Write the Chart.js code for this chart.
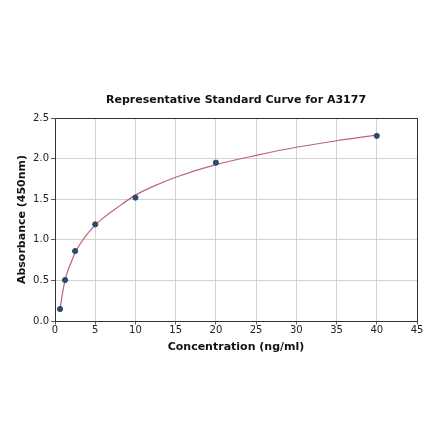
<!DOCTYPE html>
<html>
<head>
<meta charset="utf-8">
<script src="https://cdn.jsdelivr.net/npm/chart.js@4"></script>
<style>
  html, body { margin: 0; padding: 0; background: #fff; }
  canvas { display: block; }
</style>
</head>
<body>
<canvas id="chartStdCurve" width="440" height="441"></canvas>
<script>
// standard points
const concentrations = [0.625, 1.25, 2.5, 5, 10, 20, 40];
const absorbances = [0.148, 0.505, 0.862, 1.19, 1.52, 1.95, 2.28];

// fitted curve
const curveX = [0.625, 0.8, 1, 1.25, 1.6, 2, 2.5, 3, 4, 5, 6, 7.5, 10, 12.5, 15, 20, 25, 30, 35, 40];
const curveY = [0.14, 0.26, 0.38, 0.5, 0.62, 0.72, 0.84, 0.93, 1.07, 1.18, 1.27, 1.38, 1.55, 1.67, 1.77, 1.925, 2.04, 2.14, 2.22, 2.29];

const xTicks = [0, 5, 10, 15, 20, 25, 30, 35, 40, 45];
const yTicks = [0, 0.5, 1.0, 1.5, 2.0, 2.5];

const chartTitle = 'Representative Standard Curve for A3177';

showStandardCurve();

function showStandardCurve() {
    const ctx = document.getElementById('chartStdCurve').getContext('2d');
    const font = 'DejaVu Sans';

    // title centred over the plot area, like matplotlib does
    const plotTitle = {
        id: 'plotTitle',
        afterDraw(chart) {
            const c = chart.ctx;
            const area = chart.chartArea;
            c.save();
            c.font = 'bold 11px "' + font + '"';
            c.fillStyle = '#111';
            c.textAlign = 'center';
            c.textBaseline = 'middle';
            c.fillText(chartTitle, (area.left + area.right) / 2, 100);
            c.restore();
        }
    };

    new Chart(ctx, {
        type: 'scatter',
        data: {
            datasets: [
                {
                    label: 'Standards',
                    data: concentrations.map((x, i) => ({ x: x, y: absorbances[i] })),
                    backgroundColor: '#2c4a6b',
                    borderColor: '#2c4a6b',
                    pointRadius: 2.6,
                    order: 1,
                },
                {
                    label: 'Fit',
                    data: curveX.map((x, i) => ({ x: x, y: curveY[i] })),
                    showLine: true,
                    borderColor: '#c0607e',
                    borderWidth: 1.2,
                    pointRadius: 0,
                    cubicInterpolationMode: 'monotone',
                    order: 2,
                },
            ]
        },
        options: {
            responsive: false,
            animation: false,
            layout: {
                padding: { left: 16, right: 23, top: 118, bottom: 87 }
            },
            scales: {
                x: {
                    type: 'linear',
                    min: 0,
                    max: 45,
                    afterBuildTicks: (scale) => { scale.ticks = xTicks.map(v => ({ value: v })); },
                    afterFit: (scale) => { scale.height = 33; },
                    ticks: {
                        color: '#222',
                        font: { family: font, size: 10 },
                        padding: 0,
                        maxRotation: 0,
                        callback: (v) => String(v),
                    },
                    grid: {
                        color: '#c8c8c8',
                        lineWidth: 0.8,
                        tickLength: 3.5,
                        tickColor: '#333',
                    },
                    border: { color: '#333', width: 1 },
                    title: {
                        display: true,
                        text: 'Concentration (ng/ml)',
                        color: '#111',
                        font: { family: font, size: 11, weight: 'bold' },
                        padding: { top: 0, bottom: 0 },
                    },
                },
                y: {
                    type: 'linear',
                    min: 0,
                    max: 2.5,
                    afterBuildTicks: (scale) => { scale.ticks = yTicks.map(v => ({ value: v })); },
                    afterFit: (scale) => { scale.width = 39; },
                    ticks: {
                        color: '#222',
                        font: { family: font, size: 10 },
                        padding: 2,
                        callback: (v) => v.toFixed(1),
                    },
                    grid: {
                        color: '#c8c8c8',
                        lineWidth: 0.8,
                        tickLength: 4,
                        tickColor: '#333',
                    },
                    border: { color: '#333', width: 1 },
                    title: {
                        display: true,
                        text: 'Absorbance (450nm)',
                        color: '#111',
                        font: { family: font, size: 11, weight: 'bold' },
                        padding: { top: 0, bottom: 0 },
                    },
                },
                x2: {
                    type: 'linear', position: 'top', display: true,
                    min: 0, max: 45,
                    ticks: { display: false },
                    grid: { display: false },
                    border: { color: '#333', width: 1 },
                    afterFit: (scale) => { scale.height = 0; },
                },
                y2: {
                    type: 'linear', position: 'right', display: true,
                    min: 0, max: 2.5,
                    ticks: { display: false },
                    grid: { display: false },
                    border: { color: '#333', width: 1 },
                    afterFit: (scale) => { scale.width = 0; },
                },
            },
            plugins: {
                legend: { display: false },
                tooltip: { enabled: false },
                title: { display: false },
            }
        },
        plugins: [plotTitle],
    });
}
</script>
</body>
</html>
